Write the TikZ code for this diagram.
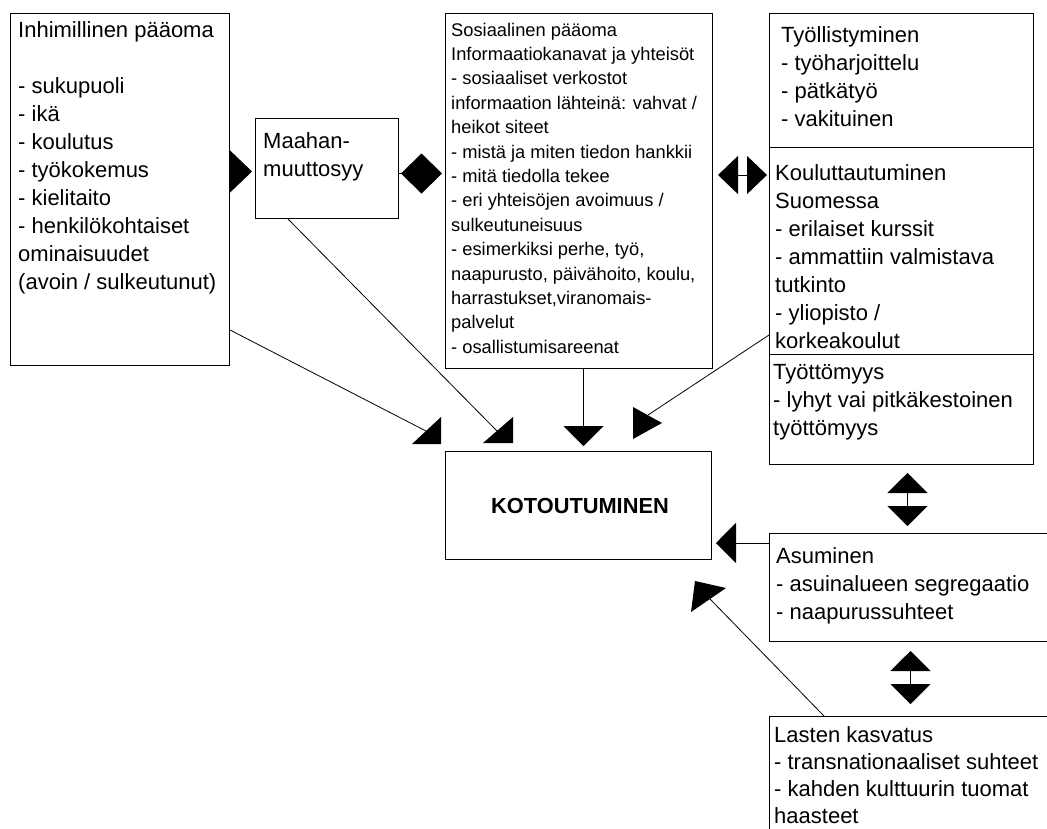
\documentclass[tikz,border=0pt]{standalone}
\usepackage{fontspec}
\setmainfont{Liberation Sans}
\usetikzlibrary{arrows.meta}
\newcommand\mylines[1]{\begin{tabular}[t]{@{}l@{}}#1\end{tabular}}
\tikzset{
  box/.style={draw, line width=1pt, inner sep=0pt, anchor=north west},
  txt/.style={inner sep=0pt, anchor=base west, font=\fontsize{22}{28}\selectfont},
  ltxt/.style={inner sep=0pt, anchor=base west, font=\fontsize{22}{27.3}\selectfont},
  stxt/.style={inner sep=0pt, anchor=base west, font=\fontsize{18.3}{24.4}\selectfont},
  conn/.style={line width=1pt},
  thin/.style={line width=0.8pt},
  headfill/.style={fill=black},
}
\begin{document}
\begin{tikzpicture}[x=1pt,y=-1pt]
\useasboundingbox (0,0) rectangle (1047,828);
\fill[white] (0,0) rectangle (1047,828);

% boxes
\node[box, minimum width=219pt, minimum height=352pt] (h) at (10,13) {};
\node[box, minimum width=143pt, minimum height=100pt] (maahan) at (255,118) {};
\node[box, minimum width=267pt, minimum height=355pt] (sos) at (445,13) {};
\node[box, minimum width=264pt, minimum height=134pt] (tyol) at (769,13) {};
\node[box, minimum width=264pt, minimum height=207pt] (kout) at (769,147) {};
\node[box, minimum width=264pt, minimum height=110pt] (tyot) at (769,354) {};
\node[box, minimum width=266pt, minimum height=108pt] (kot) at (445,451) {};
\node[box, minimum width=300pt, minimum height=108pt] (asu) at (769,533) {};
\node[box, minimum width=300pt, minimum height=150pt] (lasten) at (769,716) {};

% texts
\node[txt] (th) at (18,37.5) {\mylines{Inhimillinen pääoma\\ \\- sukupuoli\\- ikä\\- koulutus\\- työkokemus\\- kielitaito\\- henkilökohtaiset\\ominaisuudet\\(avoin / sulkeutunut)}};
\node[txt] (tm) at (263,148.5) {\mylines{Maahan-\\muuttosyy}};
\node[stxt] (ts) at (451,36) {\mylines{Sosiaalinen pääoma\\Informaatiokanavat ja yhteisöt\\- sosiaaliset verkostot\\informaation lähteinä: vahvat /\\heikot siteet\\- mistä ja miten tiedon hankkii\\- mitä tiedolla tekee\\- eri yhteisöjen avoimuus /\\sulkeutuneisuus\\- esimerkiksi perhe, työ,\\naapurusto, päivähoito, koulu,\\harrastukset,viranomais-\\palvelut\\- osallistumisareenat}};
\node[txt] (tty) at (781,42) {\mylines{Työllistyminen\\- työharjoittelu\\- pätkätyö\\- vakituinen}};
\node[txt] (tko) at (775,180.5) {\mylines{Kouluttautuminen\\Suomessa\\- erilaiset kurssit\\- ammattiin valmistava\\tutkinto\\- yliopisto /\\korkeakoulut}};
\node[txt] (ttt) at (773,379) {\mylines{Työttömyys\\- lyhyt vai pitkäkestoinen\\työttömyys}};
\node[txt] (tas) at (776,563.5) {\mylines{Asuminen\\- asuinalueen segregaatio\\- naapurussuhteet}};
\node[ltxt] (tla) at (774,742) {\mylines{Lasten kasvatus\\- transnationaaliset suhteet\\- kahden kulttuurin tuomat\\haasteet}};
\node[inner sep=0pt, anchor=base, font=\fontsize{21.8}{26}\selectfont\bfseries] (tk) at (580,513) {KOTOUTUMINEN};

% helper coordinates
\path ([yshift=-3pt]maahan.west) coordinate (a1);
\path ([yshift=-5pt]maahan.east) coordinate (a2);
\path ([yshift=-28pt]kout.north west) coordinate (a3);
\path ([xshift=6pt]tyot.south) coordinate (a4);
\path ([xshift=-9pt]asu.south) coordinate (a5);
\path ([xshift=4.5pt]sos.south) coordinate (a6);
\path ([yshift=-10pt]asu.north west) coordinate (a7);

% straight connectors
\draw[conn, -{Triangle[length=22pt,width=42pt]}, shorten >=3pt] (h.east |- a1) -- (a1);
\draw[conn, -{Diamond[length=41pt,width=40pt]}, shorten >=3pt] (a2) -- (sos.west |- a2);
\draw[conn, {Triangle[length=20pt,width=38pt]}-{Triangle[length=20pt,width=38pt]}, shorten <=5pt, shorten >=2pt] (sos.east |- a3) -- (a3);
\draw[conn, {Triangle[length=20pt,width=40pt]}-{Triangle[length=20pt,width=40pt]}, shorten <=8pt, shorten >=7pt] (a4) -- (a4 |- asu.north);
\draw[conn, {Triangle[length=20pt,width=40pt]}-{Triangle[length=20pt,width=40pt]}, shorten <=9pt, shorten >=12pt] (a5) -- (a5 |- lasten.north);
\draw[conn, -{Triangle[length=20pt,width=40pt]}, shorten >=5pt] (a6) -- (a6 |- kot.north);
\draw[conn, -{Triangle[length=20pt,width=40pt]}, shorten >=4pt] (a7) -- (kot.east |- a7);

% diagonal connectors with their heads
\coordinate (eA) at (426,431); \coordinate (tA) at (441,444);
\draw[thin] ([yshift=-317pt]h.north east) -- (eA);
\fill[headfill] (tA) -- ++(-29,0) -- ++(29,-27) -- cycle;

\coordinate (eB) at (497,431); \coordinate (tB) at (513,443);
\draw[thin] ([xshift=33pt]maahan.south west) -- (eB);
\fill[headfill] (tB) -- ++(-30,0) -- ++(30,-26) -- cycle;

\coordinate (eD) at (648,415); \coordinate (tD) at (633,407);
\draw[thin] ([yshift=-188pt]kout.north west) -- (eD);
\fill[headfill] (tD) -- ++(29,16) -- ++(-29,16) -- cycle;

\coordinate (eF) at (710,599); \coordinate (tF) at (695,581);
\draw[thin] ([xshift=55pt]lasten.north west) -- (eF);
\fill[headfill] (tF) -- ++(-4,31) -- ++(35,-24) -- cycle;
\end{tikzpicture}
\end{document}
